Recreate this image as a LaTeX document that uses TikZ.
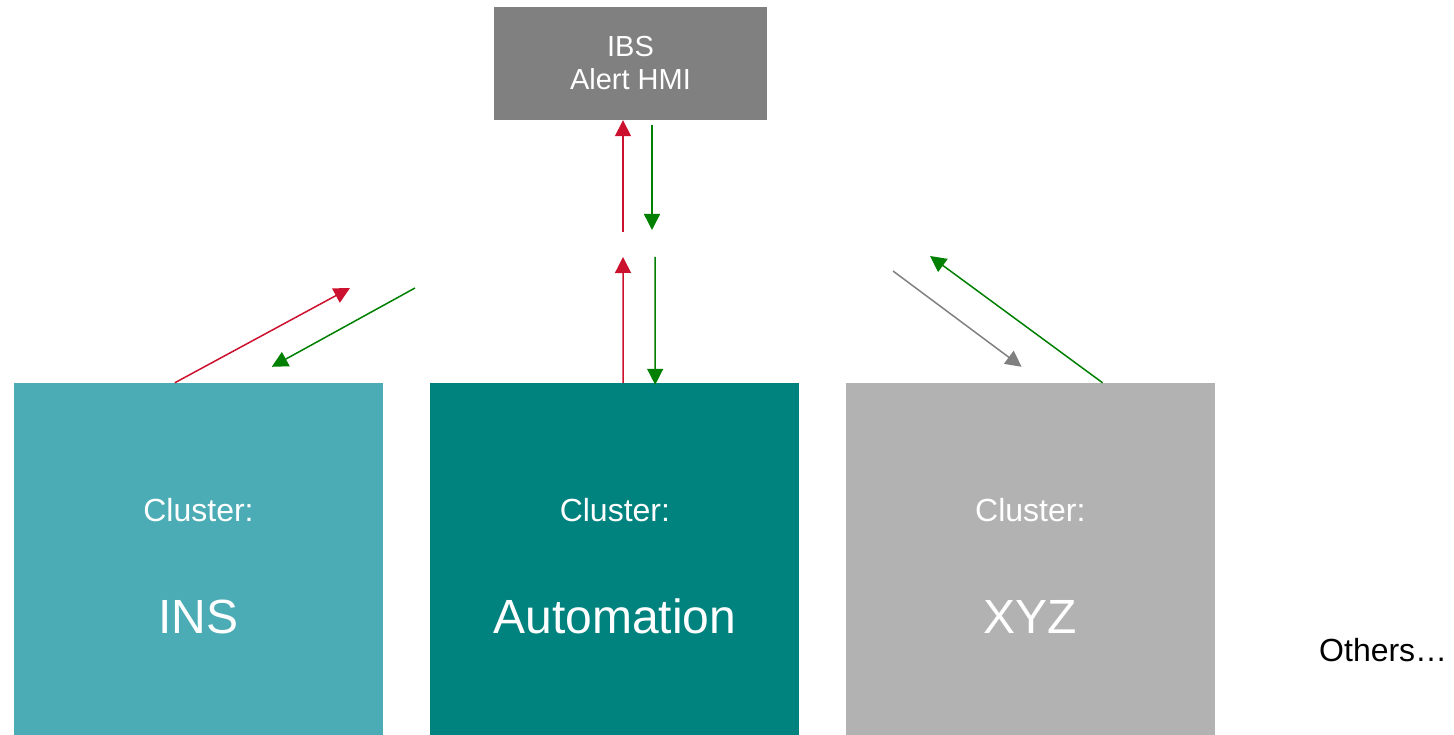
\documentclass[tikz,border=0pt]{standalone}
\usepackage{fontspec}
\setmainfont{Liberation Sans}
\usetikzlibrary{arrows.meta, calc, positioning}
\definecolor{insteal}{RGB}{75,172,181}
\definecolor{autoteal}{RGB}{0,130,127}
\definecolor{xyzgray}{RGB}{178,178,178}
\definecolor{ibsgray}{RGB}{128,128,128}
\definecolor{alertred}{RGB}{204,17,46}
\definecolor{okgreen}{RGB}{0,128,0}
\tikzstyle{clusterbox} = [rectangle, minimum width=369pt, minimum height=352pt, inner sep=0pt, draw=none]
\tikzstyle{hmibox} = [rectangle, minimum width=273pt, minimum height=113pt, inner sep=0pt, fill=ibsgray, text=white, align=center, font=\fontsize{29}{33}\selectfont]
\tikzstyle{clhead} = [anchor=base, text=white, inner sep=0pt, font=\fontsize{32}{38}\selectfont]
\tikzstyle{clname} = [anchor=base, text=white, inner sep=0pt, font=\fontsize{48}{56}\selectfont]
\tikzstyle{arrow} = [line width=1.5pt, -{Triangle[length=16pt, width=16pt]}]

\begin{document}
\begin{tikzpicture}[x=1pt, y=-1pt]
\useasboundingbox (0,0) rectangle (1454,735);

\node (ins) [clusterbox, fill=insteal] at (198.5,559) {};
\node (auto) [clusterbox, fill=autoteal, right=47pt of ins] {};
\node (xyz) [clusterbox, fill=xyzgray, right=46pt of auto] {};
\node (ibs) [hmibox] at (630.5,63.5) {IBS\\Alert HMI};

\node (ins-h) [clhead] at ($(ins.center)+(0,-38)$) {Cluster:};
\node (ins-n) [clname] at ($(ins.center)+(0,74)$) {INS};
\node (auto-h) [clhead] at ($(auto.center)+(0,-38)$) {Cluster:};
\node (auto-n) [clname] at ($(auto.center)+(0,74)$) {Automation};
\node (xyz-h) [clhead] at ($(xyz.center)+(0,-38)$) {Cluster:};
\node (xyz-n) [clname] at ($(xyz.center)+(0,74)$) {XYZ};

\node (others) [anchor=base west, inner sep=0pt, font=\fontsize{32}{38}\selectfont] at (1319,661) {Others…};

% free ends of the links
\coordinate (ins-up) at (350,288);
\coordinate (ins-down) at (415,288);
\coordinate (auto-up) at (623,257);
\coordinate (auto-down) at (655,257);
\coordinate (ibs-in) at (623,232);
\coordinate (ibs-out) at (652,230);
\coordinate (xyz-down) at (893,271);
\coordinate (xyz-up) at (930,256);

\draw [arrow, alertred] ($(ins.north west)+(161,0)$) -- (ins-up);
\draw [arrow, okgreen] (ins-down) -- ($(ins.north west)+(258,-16)$);
\draw [arrow, alertred] ($(auto.north west)+(193,0)$) -- (auto-up);
\draw [arrow, okgreen] (auto-down) -- ($(auto.north west)+(225,2)$);
\draw [arrow, alertred] (ibs-in) -- (ibs-in |- ibs.south);
\draw [arrow, okgreen] (ibs-out |- 0,125) -- (ibs-out);
\draw [arrow, ibsgray] (xyz-down) -- ($(xyz.north west)+(176,-16)$);
\draw [arrow, okgreen] ($(xyz.north west)+(257,0)$) -- (xyz-up);

\end{tikzpicture}
\end{document}
